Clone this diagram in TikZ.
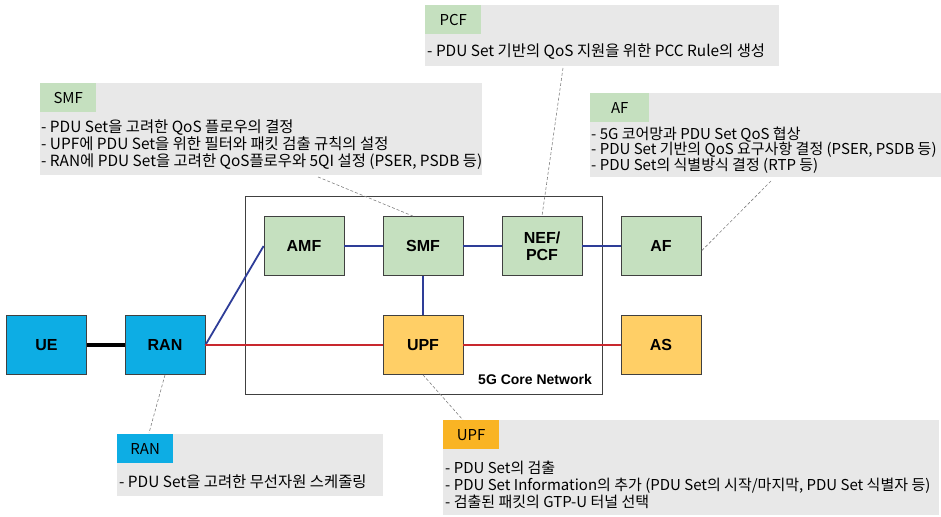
\documentclass[tikz,border=0pt]{standalone}
\usepackage{fontspec}
\newfontfamily\boxfont{Liberation Sans}
\newfontfamily\krfont{Noto Sans CJK KR}
\usetikzlibrary{positioning}

\definecolor{nfgreen}{HTML}{C5E0BF}
\definecolor{nfblue}{HTML}{0DADE4}
\definecolor{nforange}{HTML}{FFCF66}
\definecolor{tagorange}{HTML}{F9B424}
\definecolor{memogray}{HTML}{E8E8E8}
\definecolor{cpline}{HTML}{2E3D98}
\definecolor{upline}{HTML}{C8282E}
\definecolor{nfborder}{HTML}{404040}

\begin{document}
\begin{tikzpicture}[x=1pt, y=-1pt, node distance=119pt, on grid,
    nf/.style={draw=nfborder, line width=0.8pt, minimum width=80pt, minimum height=59pt, align=center, font=\boxfont\bfseries\fontsize{16}{17}\selectfont},
    cp/.style={nf, fill=nfgreen},
    up/.style={nf, fill=nforange},
    ra/.style={nf, fill=nfblue},
    memo/.style={fill=memogray, anchor=north west, inner sep=0pt},
    tag/.style={anchor=north west, inner sep=0pt, minimum width=56pt, minimum height=29pt, font=\krfont\fontsize{15}{17}\selectfont},
    memotext/.style={anchor=west, inner sep=0pt, align=left, font=\krfont\fontsize{15.4}{17}\selectfont},
    leader/.style={draw=gray, line width=0.6pt, dash pattern=on 3pt off 2pt},
    cplink/.style={draw=cpline, line width=1.8pt},
    uplink/.style={draw=upline, line width=2.2pt}]

  \useasboundingbox (0,0) rectangle (941,516);

  % Core network frame
  \node[draw=nfborder, line width=0.8pt, minimum width=357pt, minimum height=198pt] (core) at (423.5,295) {};
  \node[anchor=base east, inner sep=0pt, font=\boxfont\bfseries\fontsize{14}{16}\selectfont] (corename) at (592,384) {5G Core Network};

  % Network functions
  \node[cp] (amf) at (304,246) {AMF};
  \node[cp] (smf) [right=of amf] {SMF};
  \node[cp] (nef) [right=of smf] {NEF/\\PCF};
  \node[cp] (af) [right=of nef] {AF};
  \node[up] (upf) [below=99pt of smf] {UPF};
  \node[up] (as) [below=99pt of af] {AS};
  \node[ra] (ran) [left=258pt of upf] {RAN};
  \node[ra] (ue) [left=118.5pt of ran] {UE};

  % Links
  \draw[line width=3.2pt] (ue) -- (ran);
  \draw[cplink] (ran.east) -- (amf.west);
  \draw[cplink] (amf) -- (smf);
  \draw[cplink] (smf) -- (nef);
  \draw[cplink] (nef) -- (af);
  \draw[cplink] (smf) -- (upf);
  \draw[uplink] (ran.east) -- (upf.west);
  \draw[uplink] (upf) -- (as);

  % Callouts
  % PCF
  \node[memo, minimum width=354pt, minimum height=61pt] (pcfmemo) at (425,5) {};
  \node[tag, fill=nfgreen] (pcftag) at (pcfmemo.north west) {PCF};
  \node[memotext] (pcftext) at (427,52) {- PDU Set 기반의 QoS 지원을 위한 PCC Rule의 생성};

  % SMF
  \node[memo, minimum width=442pt, minimum height=92pt] (smfmemo) at (40,83) {};
  \node[tag, fill=nfgreen] (smftag) at (smfmemo.north west) {SMF};
  \node[memotext] (smftext) at (41,145) {- PDU Set을 고려한 QoS 플로우의 결정\\- UPF에 PDU Set을 위한 필터와 패킷 검출 규칙의 설정\\- RAN에 PDU Set을 고려한 QoS플로우와 5QI 설정 (PSER, PSDB 등)};

  % AF
  \node[memo, minimum width=351pt, minimum height=84pt] (afmemo) at (590,93) {};
  \node[tag, fill=nfgreen, minimum width=59pt] (aftag) at (afmemo.north west) {AF};
  \node[memotext, font=\krfont\fontsize{15}{15.5}\selectfont] (aftext) at (591,150) {- 5G 코어망과 PDU Set QoS 협상\\- PDU Set 기반의 QoS 요구사항 결정 (PSER, PSDB 등)\\- PDU Set의 식별방식 결정 (RTP 등)};

  % RAN
  \node[memo, minimum width=266pt, minimum height=62pt] (ranmemo) at (117,434) {};
  \node[tag, fill=nfblue] (rantag) at (ranmemo.north west) {RAN};
  \node[memotext] (rantext) at (119,482) {- PDU Set을 고려한 무선자원 스케줄링};

  % UPF
  \node[memo, minimum width=496pt, minimum height=95pt] (upfmemo) at (443,420) {};
  \node[tag, fill=tagorange] (upftag) at (upfmemo.north west) {UPF};
  \node[memotext, font=\krfont\fontsize{15}{17}\selectfont] (upftext) at (445,485) {- PDU Set의 검출\\- PDU Set Information의 추가 (PDU Set의 시작/마지막, PDU Set 식별자 등)\\- 검출된 패킷의 GTP-U 터널 선택};

  % Leaders
  \coordinate (pcfpin) at (563,68);
  \coordinate (smfpin) at (318,177);
  \coordinate (afpin) at (771,181);
  \coordinate (ranpin) at (149,433);
  \coordinate (upfpin) at (463,420);
  \draw[leader] (pcfpin) -- (nef.north);
  \draw[leader] (smfpin) -- ([xshift=-10pt]smf.north);
  \draw[leader] (afpin) -- ([yshift=-5pt]af.east);
  \draw[leader] (ran.south) -- (ranpin);
  \draw[leader] (upf.south) -- (upfpin);

\end{tikzpicture}
\end{document}
